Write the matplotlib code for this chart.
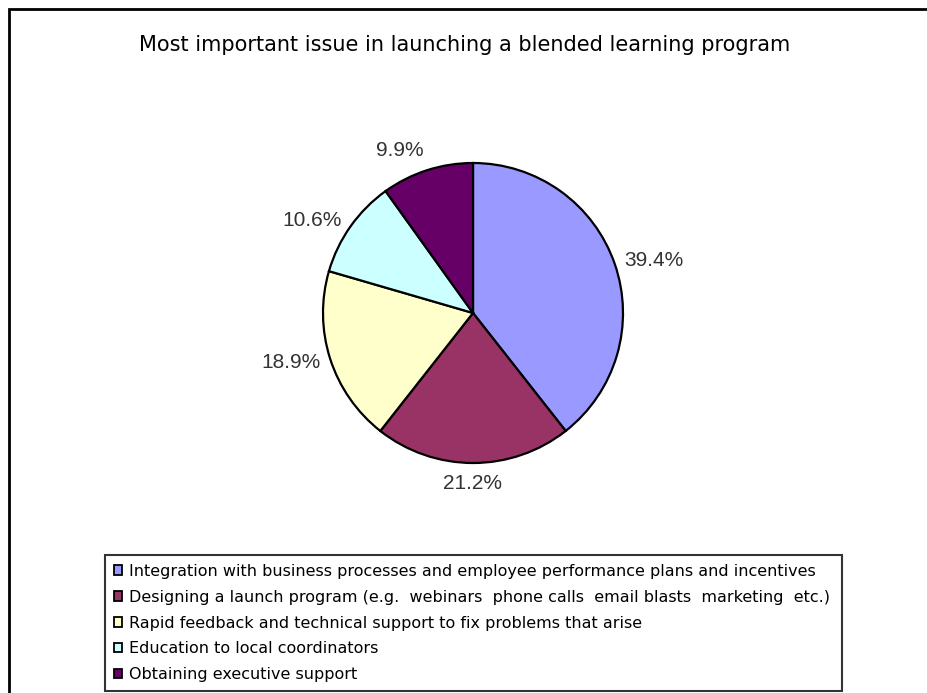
import matplotlib
matplotlib.use("Agg")
import matplotlib.pyplot as plt
import matplotlib.patches as mpatches
import numpy as np

title = "Most important issue in launching a blended learning program"
categories = [
    "Integration with business processes and employee performance plans and incentives",
    "Designing a launch program (e.g.  webinars  phone calls  email blasts  marketing  etc.)",
    "Rapid feedback and technical support to fix problems that arise",
    "Education to local coordinators",
    "Obtaining executive support",
]
shares = [39.4, 21.2, 18.9, 10.6, 9.9]
colors = ["#9999FF", "#993366", "#FFFFCC", "#CCFFFF", "#660066"]

W, H = 927, 693
fig = plt.figure(figsize=(W / 100, H / 100), dpi=100)
fig.patch.set_facecolor("white")

# outer chart-area border (open to the right and bottom edges)
fig.add_artist(mpatches.Rectangle((9 / W, -0.02), 1.05, 1 - 9 / H + 0.02,
                                  transform=fig.transFigure, fill=False,
                                  edgecolor="black", linewidth=2.0))

fig.text(465 / W, 1 - 45 / H, title, ha="center", va="center",
         fontsize=15.0, family="DejaVu Sans", color="black")

cx, cy, r = 473, 313, 150
ax = fig.add_axes([(cx - r) / W, (H - cy - r) / H, 2 * r / W, 2 * r / H])
wedges, _ = ax.pie(shares, colors=colors, startangle=90, counterclock=False,
                   wedgeprops=dict(edgecolor="black", linewidth=1.6))
ax.set_xlim(-1, 1)
ax.set_ylim(-1, 1)
ax.set_aspect("equal")

# percentage labels just outside each wedge
for w, v in zip(wedges, shares):
    ang = np.deg2rad((w.theta1 + w.theta2) / 2)
    x, y = np.cos(ang), np.sin(ang)
    ha = "left" if x > 0.1 else ("right" if x < -0.1 else "center")
    if y > 0.85:
        va = "bottom"
    elif y < -0.85:
        va = "top"
    else:
        va = "center"
    ax.text(1.07 * x, 1.07 * y, f"{v:.1f}%", ha=ha, va=va, fontsize=15,
            color="#333333", family="Liberation Sans")

top = 1 - 555 / H
leg = fig.legend(wedges, categories, loc="upper left",
                 bbox_to_anchor=(105 / W, top - 0.01, (842 - 105) / W, 0.01),
                 mode="expand", borderaxespad=0, frameon=True, fancybox=False,
                 handlelength=0.52, handleheight=0.52, handletextpad=0.45,
                 labelspacing=0.68, borderpad=0.55,
                 prop=dict(family="DejaVu Sans", size=11.5))
leg.get_frame().set_edgecolor("black")
leg.get_frame().set_linewidth(1.5)
for h in leg.legend_handles:
    h.set_linewidth(1.3)

fig.savefig("out.png", dpi=100, facecolor="white")
